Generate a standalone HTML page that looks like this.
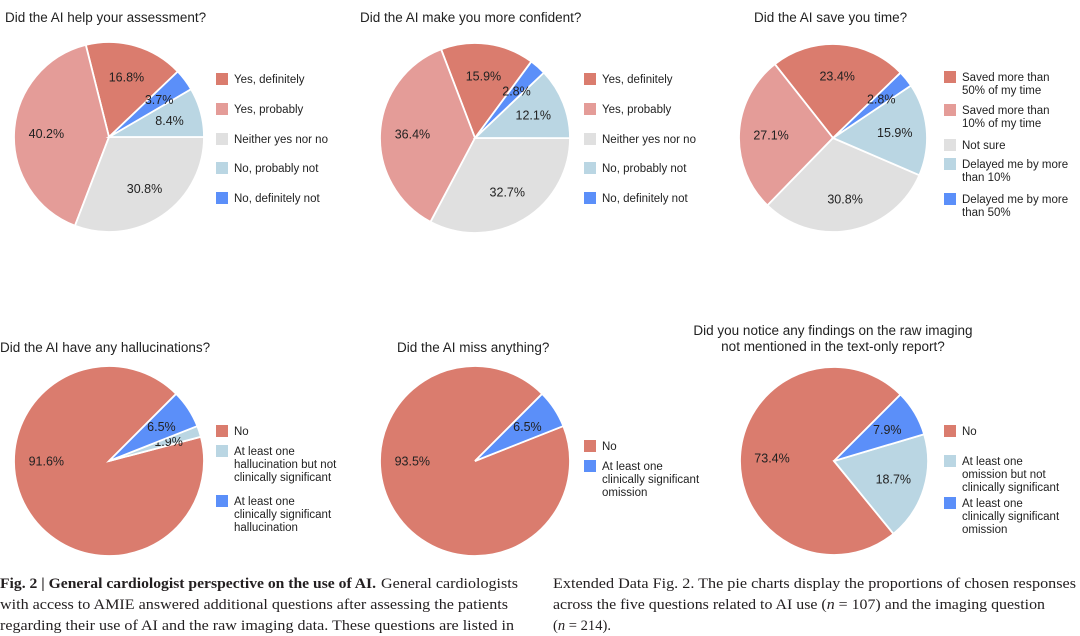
<!DOCTYPE html>
<html><head><meta charset="utf-8"><style>
html,body{margin:0;padding:0;background:#fff}
svg{display:block}
text{font-family:"Liberation Sans",sans-serif;fill:#222}
.cap{font-family:"Liberation Serif",serif;font-size:15px;fill:#231f20}
</style></head><body>
<svg id="fig" width="1080" height="636" viewBox="0 0 1080 636" xmlns="http://www.w3.org/2000/svg">
<g id="charts"></g>
<g>
<text class="cap" x="0" y="588" font-weight="bold" textLength="376" lengthAdjust="spacingAndGlyphs">Fig. 2 | General cardiologist perspective on the use of AI.</text>
<text class="cap" x="381" y="588" textLength="137" lengthAdjust="spacingAndGlyphs">General cardiologists</text>
<text class="cap" x="0" y="609" textLength="508" lengthAdjust="spacingAndGlyphs">with access to AMIE answered additional questions after assessing the patients</text>
<text class="cap" x="0" y="630" textLength="514" lengthAdjust="spacingAndGlyphs">regarding their use of AI and the raw imaging data. These questions are listed in</text>
<text class="cap" x="553" y="588" textLength="523" lengthAdjust="spacingAndGlyphs">Extended Data Fig. 2. The pie charts display the proportions of chosen responses</text>
<text class="cap" x="553" y="609" textLength="492" lengthAdjust="spacingAndGlyphs">across the five questions related to AI use (<tspan font-style="italic">n</tspan> = 107) and the imaging question</text>
<text class="cap" x="553" y="630" textLength="58" lengthAdjust="spacingAndGlyphs">(<tspan font-style="italic">n</tspan> = 214).</text>
</g>
</svg>
<script>
// ---- data ----
const cats1 = ["Yes, definitely","Yes, probably","Neither yes nor no","No, probably not","No, definitely not"];
const vals1 = [16.8, 40.2, 30.8, 8.4, 3.7];
const cats2 = ["Yes, definitely","Yes, probably","Neither yes nor no","No, probably not","No, definitely not"];
const vals2 = [15.9, 36.4, 32.7, 12.1, 2.8];
const cats3 = ["Saved more than|50% of my time","Saved more than|10% of my time","Not sure","Delayed me by more|than 10%","Delayed me by more|than 50%"];
const vals3 = [23.4, 27.1, 30.8, 15.9, 2.8];
const cats4 = ["No","At least one|hallucination but not|clinically significant","At least one|clinically significant|hallucination"];
const vals4 = [91.6, 1.9, 6.5];
const cats5 = ["No","At least one|clinically significant|omission"];
const vals5 = [93.5, 6.5];
const cats6 = ["No","At least one|omission but not|clinically significant","At least one|clinically significant|omission"];
const vals6 = [73.4, 18.7, 7.9];

const C = {dr:"#da7c6e", pk:"#e49c98", gy:"#e0e0e0", lb:"#bad6e3", bl:"#5b8ff9"};
const specs = [
 {cats:cats1, vals:vals1, cols:[C.dr,C.pk,C.gy,C.lb,C.bl], cx:109, cy:137, r:95, start:43.6,
  title:["Did the AI help your assessment?"], tx:5, ty:22, anchor:"start",
  lx:216, ly:[79,109,139,168,198]},
 {cats:cats2, vals:vals2, cols:[C.dr,C.pk,C.gy,C.lb,C.bl], cx:475, cy:138, r:95, start:53.6,
  title:["Did the AI make you more confident?"], tx:360, ty:22, anchor:"start",
  lx:584, ly:[79,109,139,168,198]},
 {cats:cats3, vals:vals3, cols:[C.dr,C.pk,C.gy,C.lb,C.bl], cx:833, cy:138, r:94, start:44,
  title:["Did the AI save you time?"], tx:754, ty:22, anchor:"start",
  lx:944, ly:[77,110,145,164,199]},
 {cats:cats4, vals:vals4, cols:[C.dr,C.lb,C.bl], cx:109, cy:461, r:95, start:45,
  title:["Did the AI have any hallucinations?"], tx:0, ty:352, anchor:"start",
  lx:216, ly:[431,451,501]},
 {cats:cats5, vals:vals5, cols:[C.dr,C.bl], cx:475, cy:461, r:95, start:45,
  title:["Did the AI miss anything?"], tx:397, ty:352, anchor:"start",
  lx:584, ly:[446,466]},
 {cats:cats6, vals:vals6, cols:[C.dr,C.lb,C.bl], cx:834, cy:461, r:94, start:45,
  title:["Did you notice any findings on the raw imaging","not mentioned in the text-only report?"], tx:833, ty:335, anchor:"middle",
  lx:944, ly:[431,461,503]}
];

const NS = "http://www.w3.org/2000/svg";
const root = document.getElementById("charts");
function mk(tag, attrs, parent){ const e=document.createElementNS(NS,tag); for(const k in attrs) e.setAttribute(k,attrs[k]); parent.appendChild(e); return e; }
function pt(cx,cy,r,deg){ const a=deg*Math.PI/180; return [cx+r*Math.cos(a), cy-r*Math.sin(a)]; }

specs.forEach((s, ci) => {
  const g = mk("g", {}, root);
  
  
  s.title.forEach((t, i) => {
    const te = mk("text", {x:s.tx, y:s.ty + i*16, "font-size":"13.5", "text-anchor":s.anchor}, g);
    
    
    te.textContent = t;
  });
  const total = s.vals.reduce((a,b)=>a+b,0);
  let ang = s.start;
  s.vals.forEach((v, i) => {
    const sweep = v/total*360;
    const a0 = ang, a1 = ang + sweep;
    const p0 = pt(s.cx,s.cy,s.r,a0), p1 = pt(s.cx,s.cy,s.r,a1);
    const large = sweep > 180 ? 1 : 0;
    const d = `M${s.cx},${s.cy} L${p0[0]},${p0[1]} A${s.r},${s.r} 0 ${large} 0 ${p1[0]},${p1[1]} Z`;
    const path = mk("path", {d:d, fill:s.cols[i], stroke:"#fff", "stroke-width":"1.8"}, g);
    
    
    const mid = sweep > 250 ? Math.min((a0+a1)/2, 180) : (a0+a1)/2;
    const lp = pt(s.cx, s.cy, s.r*0.66, mid);
    const lt = mk("text", {x:lp[0], y:lp[1]+4.5, "font-size":"12.5", "text-anchor":"middle"}, g);
    
    
    lt.textContent = v.toFixed(1) + "%";
    ang = a1;
  });
  s.cats.forEach((c, i) => {
    const lines = c.split("|");
    const y = s.ly[i];
    const sq = mk("rect", {x:s.lx, y:y-6, width:12, height:12, fill:s.cols[i]}, g);
    
    
    lines.forEach((ln, j) => {
      const t = mk("text", {x:s.lx+18, y:y+4+j*13, "font-size":"11.5", fill:"#333"}, g);
      
      
      t.textContent = ln;
    });
  });
});
</script>
</body></html>
